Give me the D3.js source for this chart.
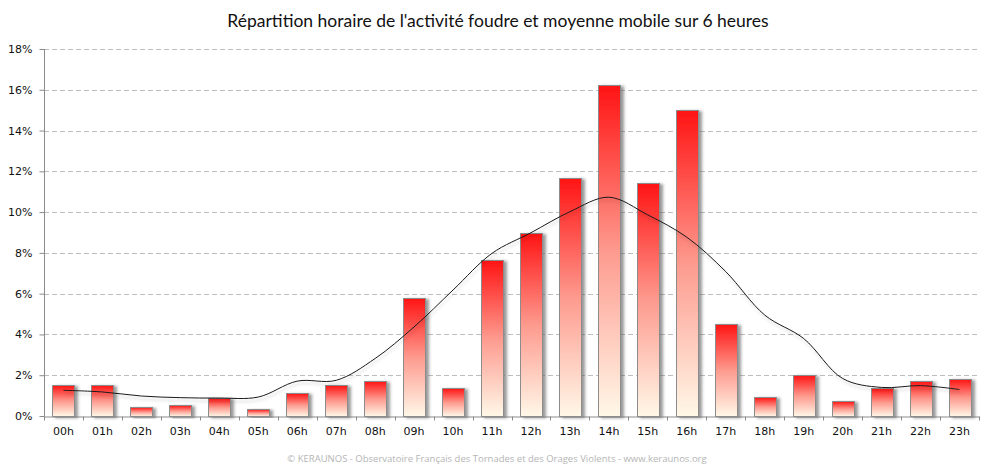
<meta charset="utf-8">
<title>Répartition horaire</title>
<style>
  body { margin: 0; background: #fff; }
  svg { display: block; }
</style>
<svg width="994" height="471"></svg>
<script src="https://d3js.org/d3.v7.min.js"></script>
<script>

// hours of the day
var hours = ["00h","01h","02h","03h","04h","05h","06h","07h","08h","09h","10h","11h",
             "12h","13h","14h","15h","16h","17h","18h","19h","20h","21h","22h","23h"];

// share of lightning activity per hour (%)
var activity = [1.54, 1.54, 0.46, 0.52, 0.90, 0.33, 1.11, 1.54, 1.74, 5.77, 1.35, 7.64,
                8.98, 11.67, 16.22, 11.42, 15.00, 4.49, 0.92, 2.00, 0.72, 1.35, 1.71, 1.80];

// 6 hour moving average (%)
var movingAvg = [1.26, 1.18, 0.98, 0.90, 0.88, 0.93, 1.71, 1.75, 2.82, 4.37, 6.18, 7.98,
                 8.99, 10.02, 10.73, 9.86, 8.77, 7.08, 4.95, 3.80, 1.84, 1.40, 1.49, 1.30];

var yTicks = [0, 2, 4, 6, 8, 10, 12, 14, 16, 18];

var title = "Répartition horaire de l'activité foudre et moyenne mobile sur 6 heures";
var footer = "© KERAUNOS - Observatoire Français des Tornades et des Orages Violents - www.keraunos.org";

var svg = d3.select("svg");
var width = +svg.attr("width");
var height = +svg.attr("height");

var margin = {left: 44, right: 15, top: 49, bottom: 55};

var x = d3.scaleBand()
    .domain(hours)
    .range([margin.left, width - margin.right])
    .paddingInner(0.435)
    .paddingOuter(0.2175);

var y = d3.scaleLinear()
    .domain([0, 18])
    .range([height - margin.bottom, margin.top]);

var defs = svg.append("defs");

var grad = defs.append("linearGradient")
    .attr("id", "barGrad")
    .attr("x1", 0).attr("y1", 0)
    .attr("x2", 0).attr("y2", 1);
grad.append("stop").attr("offset", "0%").attr("stop-color", "#ff1414");
grad.append("stop").attr("offset", "50%").attr("stop-color", "#fd9a8e");
grad.append("stop").attr("offset", "100%").attr("stop-color", "#fff8e8");

var shadow = defs.append("filter")
    .attr("id", "shadow")
    .attr("x", "-30%").attr("y", "-10%")
    .attr("width", "170%").attr("height", "130%");
shadow.append("feDropShadow")
    .attr("dx", 3).attr("dy", 1)
    .attr("stdDeviation", 1.6)
    .attr("flood-color", "#555")
    .attr("flood-opacity", 0.6);

var lineShadow = defs.append("filter")
    .attr("id", "lineShadow")
    .attr("x", "-5%").attr("y", "-20%")
    .attr("width", "110%").attr("height", "140%");
lineShadow.append("feDropShadow")
    .attr("dx", 1).attr("dy", 3)
    .attr("stdDeviation", 1.5)
    .attr("flood-color", "#000")
    .attr("flood-opacity", 0.2);

// title
svg.append("text")
    .attr("x", 498)
    .attr("y", 27)
    .attr("text-anchor", "middle")
    .style("font-family", "Lato, 'Open Sans', sans-serif")
    .style("font-size", "17.5px")
    .style("fill", "#111")
    .text(title);

// grid lines
svg.append("g")
    .selectAll("line")
    .data(yTicks.filter(function(d){ return d > 0; }))
    .enter()
    .append("line")
    .attr("x1", margin.left)
    .attr("x2", width - margin.right)
    .attr("y1", function(d){ return Math.round(y(d)) + 0.5; })
    .attr("y2", function(d){ return Math.round(y(d)) + 0.5; })
    .style("stroke", "#bdbdbd")
    .style("stroke-dasharray", "5,3");

// y axis
var yAxis = svg.append("g")
    .attr("transform", "translate(" + (margin.left + 0.5) + ",0)")
    .call(d3.axisLeft(y).tickValues(yTicks).tickSize(5).tickPadding(7)
        .tickFormat(function(d){ return d + "%"; }));

// x axis
var xAxis = svg.append("g")
    .attr("transform", "translate(0," + (Math.round(y(0)) + 0.5) + ")")
    .call(d3.axisBottom(x).tickSize(0).tickPadding(11));

// ticks between categories
var step = x.step();
xAxis.append("g")
    .selectAll("line")
    .data(d3.range(hours.length + 1))
    .enter()
    .append("line")
    .attr("x1", function(i){ return Math.round(margin.left + i * step) + 0.5; })
    .attr("x2", function(i){ return Math.round(margin.left + i * step) + 0.5; })
    .attr("y1", 0)
    .attr("y2", 4)
    .style("stroke", "#8a8a8a");

[yAxis, xAxis].forEach(function(g){
    g.select(".domain").style("stroke", "#8a8a8a");
    g.selectAll(".tick line").style("stroke", "#8a8a8a");
    g.selectAll("text")
        .style("font-family", "'DejaVu Sans', Verdana, sans-serif")
        .style("font-size", "11px")
        .style("fill", "#111");
});
yAxis.select(".domain").attr("d", "M0," + y(18) + "V" + (y(0) + 0.5));

// bars
svg.append("g")
    .selectAll("rect")
    .data(activity)
    .enter()
    .append("rect")
    .attr("x", function(d, i){ return Math.round(x(hours[i])) + 0.5; })
    .attr("y", function(d){ return Math.round(y(d)) + 0.5; })
    .attr("width", Math.round(x.bandwidth()))
    .attr("height", function(d){ return Math.round(y(0)) - Math.round(y(d)); })
    .attr("fill", "url(#barGrad)")
    .style("stroke", "#8c8c8c")
    .style("stroke-width", 1)
    .attr("filter", "url(#shadow)");

// moving average
var line = d3.line()
    .x(function(d, i){ return x(hours[i]) + x.bandwidth() / 2; })
    .y(function(d){ return y(d); })
    .curve(d3.curveCatmullRom.alpha(0.5));

svg.append("path")
    .datum(movingAvg)
    .attr("d", line)
    .style("fill", "none")
    .style("stroke", "#1a1a1a")
    .style("stroke-width", 1)
    .attr("filter", "url(#lineShadow)");

// footer
svg.append("text")
    .attr("x", 497)
    .attr("y", 462)
    .attr("text-anchor", "middle")
    .style("font-family", "'Open Sans', sans-serif")
    .style("font-size", "9.5px")
    .style("fill", "#b5b5b5")
    .text(footer);

</script>
